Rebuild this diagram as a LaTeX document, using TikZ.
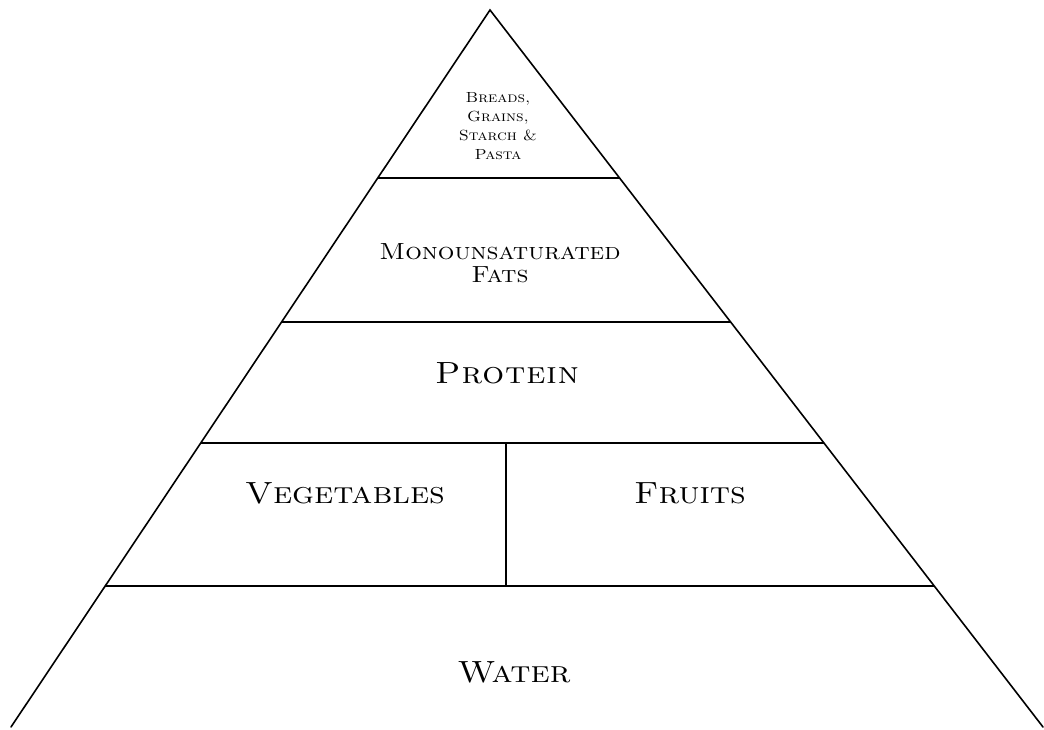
\documentclass[tikz,border=0pt]{standalone}
\usepackage{fontspec}
\setmainfont{Latin Modern Roman}[
  SmallCapsFont={Latin Modern Roman Caps},
  FakeStretch=1.12,
  SmallCapsFeatures={FakeStretch=1.12}]
\usepackage{tikz}
\usetikzlibrary{calc, positioning}

\begin{document}
\begin{tikzpicture}[
  x=0.75pt, y=-0.75pt,
  side/.style={line width=1.2pt, line cap=round},
  tier/.style={line width=1.5pt},
  lbl/.style={align=center, inner sep=0pt, font=\scshape},
  big/.style={lbl, font=\fontsize{23}{26}\selectfont\scshape},
  wide/.style={lbl, font=\fontsize{23}{26}\selectfont\scshape\addfontfeatures{LetterSpace=3}},
  mid/.style={lbl, font=\fontsize{17.5}{17.25}\selectfont\scshape},
  tiny/.style={lbl, font=\fontsize{11}{14.25}\selectfont\scshape}
]
\useasboundingbox (0,0) rectangle (1044,729);

\coordinate (apex) at (490,10);
\coordinate (bl)   at (11,727);
\coordinate (br)   at (1043,727);

\draw[side] (bl) -- (apex) -- (br);

\coordinate (l1) at ($(apex)!{168/717}!(bl)$);
\coordinate (r1) at ($(apex)!{168/717}!(br)$);
\coordinate (l2) at ($(apex)!{312/717}!(bl)$);
\coordinate (r2) at ($(apex)!{312/717}!(br)$);
\coordinate (l3) at ($(apex)!{433/717}!(bl)$);
\coordinate (r3) at ($(apex)!{433/717}!(br)$);
\coordinate (l4) at ($(apex)!{576/717}!(bl)$);
\coordinate (r4) at ($(apex)!{576/717}!(br)$);
\coordinate (m3) at (506,443);
\coordinate (m4) at (506,586);

\draw[tier] (l1) -- (r1);
\draw[tier] (l2) -- (r2);
\draw[tier] (l3) -- (r3);
\draw[tier] (l4) -- (r4);
\draw[tier] (m3) -- (m4);

\node[tiny] (bread)   at (498,126.5) {Breads,\\Grains,\\Starch \&\\Pasta};
\node[mid]  (fats)    at (500,263)   {Monounsaturated\\Fats};
\node[wide] (protein) at (507,373)   {Protein};
\node[big]  (veg)     at (345,493)   {Vegetables};
\node[big]  (fruit)   at (690,493)   {Fruits};
\node[big]  (water)   at (514,672)   {Water};
\end{tikzpicture}
\end{document}
